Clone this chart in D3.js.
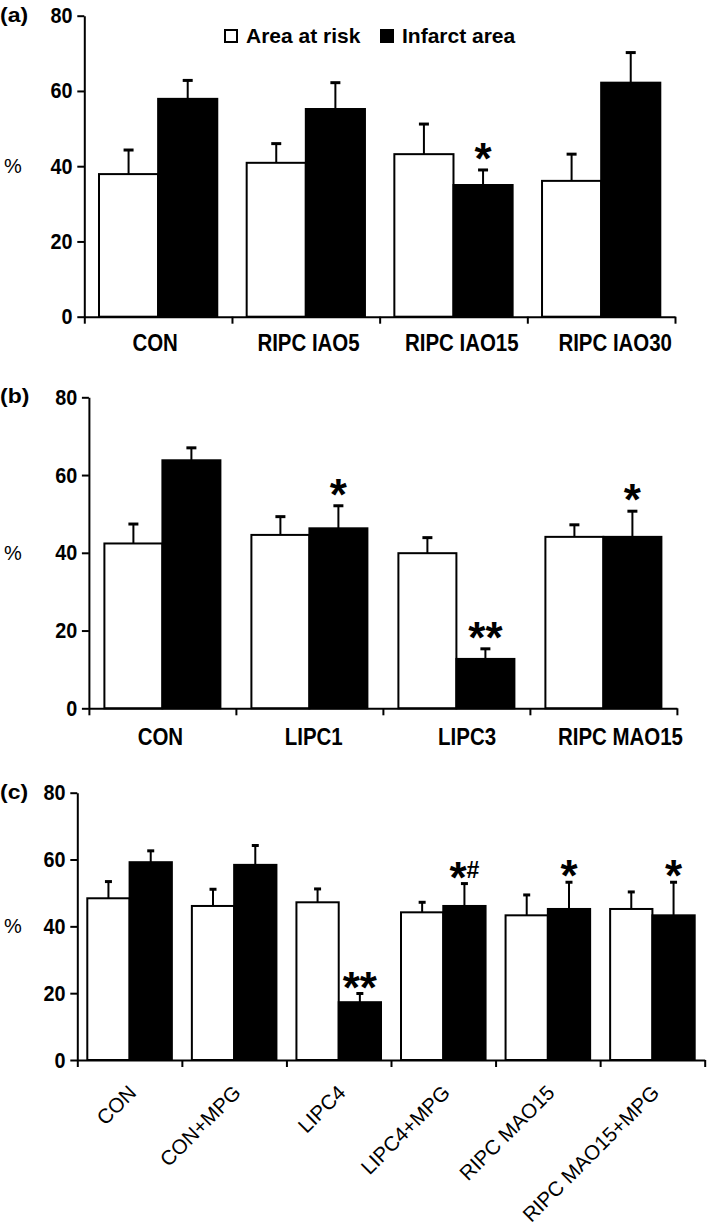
<!DOCTYPE html>
<html>
<head>
<meta charset="utf-8">
<script src="https://cdn.jsdelivr.net/npm/d3@7"></script>
<style>
  html, body { margin: 0; padding: 0; background: #fff; }
  svg { display: block; }
  text { font-family: "Liberation Sans", Arial, sans-serif; fill: #000; }
</style>
</head>
<body>
<div id="chart"></div>
<script>
// ---------- DATA ----------
const yTicks = [0, 20, 40, 60, 80];
const seriesNames = ["Area at risk", "Infarct area"];

// Panel (a)
const catsA = ["CON", "RIPC IAO5", "RIPC IAO15", "RIPC IAO30"];
const riskA = [37.9, 40.9, 43.2, 36.1];
const riskErrA = [6.4, 5.1, 8.0, 7.1];
const infarctA = [57.9, 55.2, 35.0, 62.2];
const infarctErrA = [4.9, 7.0, 4.0, 8.0];
const sigA = ["", "", "*", ""];

// Panel (b)
const catsB = ["CON", "LIPC1", "LIPC3", "RIPC MAO15"];
const riskB = [42.4, 44.6, 39.9, 44.1];
const riskErrB = [5.0, 4.7, 4.0, 3.1];
const infarctB = [63.8, 46.3, 12.7, 44.1];
const infarctErrB = [3.2, 5.8, 2.6, 6.6];
const sigB = ["", "*", "**", "*"];

// Panel (c)
const catsC = ["CON", "CON+MPG", "LIPC4", "LIPC4+MPG", "RIPC MAO15", "RIPC MAO15+MPG"];
const riskC = [48.4, 46.1, 47.2, 44.2, 43.3, 45.2];
const riskErrC = [5.0, 5.0, 4.0, 3.0, 6.1, 5.1];
const infarctC = [59.2, 58.4, 17.3, 46.1, 45.2, 43.3];
const infarctErrC = [3.4, 5.8, 2.6, 6.7, 8.0, 9.9];
const sigC = ["", "", "**", "*#", "*", "*"];

// ---------- LAYOUT ----------
const W = 709, H = 1225;
const svg = d3.select("#chart").append("svg").attr("width", W).attr("height", H);

const panels = [
  { letter: "(a)", cats: catsA, risk: riskA, riskErr: riskErrA, inf: infarctA, infErr: infarctErrA, sig: sigA,
    x0: 84.3, x1: 675, yTop: 15.7, yBot: 316.7, pad: 14.7, cap: 10, starOff: 4,
    rotated: false, labelY: 351, labelShift: [-3, 14], legend: true },
  { letter: "(b)", cats: catsB, risk: riskB, riskErr: riskErrB, inf: infarctB, infErr: infarctErrB, sig: sigB,
    x0: 88.9, x1: 676.9, yTop: 397.3, yBot: 708.3, pad: 15.5, cap: 10, starOff: 4,
    rotated: false, labelY: 745, labelShift: [-2, 17], legend: false },
  { letter: "(c)", cats: catsC, risk: riskC, riskErr: riskErrC, inf: infarctC, infErr: infarctErrC, sig: sigC,
    x0: 77.3, x1: 704.7, yTop: 792.7, yBot: 1060, pad: 10, cap: 7, starOff: 9,
    rotated: true, legend: false }
];

panels.forEach(p => {
  const n = p.cats.length;
  const g = svg.append("g");
  const x = d3.scaleLinear().domain([0, n]).range([p.x0, p.x1]);
  const y = d3.scaleLinear().domain([0, 80]).range([p.yBot, p.yTop]);
  const gw = x(1) - x(0);
  const bw = (gw - 2 * p.pad) / 2;

  // bars
  const rows = p.cats.map((c, i) => ({ i, c, risk: p.risk[i], rErr: p.riskErr[i], inf: p.inf[i], iErr: p.infErr[i], sig: p.sig[i] }));
  const bars = [];
  rows.forEach(r => {
    bars.push({ x: x(r.i) + p.pad, v: r.risk, e: r.rErr, fill: "#fff", sig: "" });
    bars.push({ x: x(r.i) + p.pad + bw, v: r.inf, e: r.iErr, fill: "#000", sig: r.sig });
  });

  // error bars (upward only)
  const eg = g.append("g");
  bars.forEach(b => {
    const cx = b.x + bw / 2;
    eg.append("line").attr("x1", cx).attr("x2", cx).attr("y1", y(b.v)).attr("y2", y(b.v + b.e))
      .attr("stroke", "#000").attr("stroke-width", 2);
    eg.append("line").attr("x1", cx - p.cap / 2).attr("x2", cx + p.cap / 2).attr("y1", y(b.v + b.e)).attr("y2", y(b.v + b.e))
      .attr("stroke", "#000").attr("stroke-width", 3);
  });

  g.append("g").selectAll("rect").data(bars).join("rect")
    .attr("x", d => d.x).attr("width", bw)
    .attr("y", d => y(d.v)).attr("height", d => y(0) - y(d.v))
    .attr("fill", d => d.fill).attr("stroke", "#000").attr("stroke-width", 2);

  // significance marks
  bars.filter(b => b.sig).forEach(b => {
    const cx = b.x + bw / 2;
    const by = y(b.v + b.e) + p.starOff;
    const t = g.append("text").attr("x", cx).attr("y", by).attr("text-anchor", "middle")
      .attr("font-weight", "bold");
    const stars = b.sig.replace(/#/g, "");
    t.append("tspan").attr("font-size", 44).text(stars);
    if (b.sig.includes("#")) {
      t.append("tspan").attr("font-size", 23).attr("dy", -15).attr("dx", 0).text("#");
    }
  });

  // y axis
  const ya = d3.axisLeft(y).tickValues(yTicks).tickSize(7).tickSizeOuter(0).tickPadding(6);
  const yg = g.append("g").attr("transform", `translate(${p.x0},0)`).call(ya);
  yg.select(".domain").attr("stroke", "#000").attr("stroke-width", 2);
  yg.selectAll(".tick line").attr("stroke", "#000").attr("stroke-width", 2);
  yg.selectAll(".tick text").attr("font-size", 22).attr("font-weight", "bold")
    .attr("font-family", '"Liberation Sans", Arial, sans-serif').attr("fill", "#000")
    .attr("transform", "scale(0.9,1)");

  // x axis (ticks at group boundaries)
  const xa = d3.axisBottom(x).tickValues(d3.range(n + 1)).tickSize(7).tickSizeOuter(0).tickFormat("");
  const xg = g.append("g").attr("transform", `translate(0,${p.yBot})`).call(xa);
  xg.select(".domain").attr("stroke", "#000").attr("stroke-width", 2);
  xg.selectAll(".tick line").attr("stroke", "#000").attr("stroke-width", 2);

  // category labels
  if (!p.rotated) {
    const lx = d3.scalePoint().domain(p.cats)
      .range([x(0.5) + p.labelShift[0], x(n - 0.5) + p.labelShift[1]]);
    p.cats.forEach(c => {
      g.append("text").attr("transform", `translate(${lx(c)},${p.labelY}) scale(0.87,1)`)
        .attr("text-anchor", "middle").attr("font-size", 23.5).attr("font-weight", "bold").text(c);
    });
  } else {
    p.cats.forEach((c, i) => {
      g.append("text").attr("transform", `translate(${x(i + 0.5) + 8},${p.yBot + 34}) rotate(-45)`)
        .attr("text-anchor", "end").attr("font-size", 20.5).text(c);
    });
  }

  // panel letter and % label
  g.append("text").attr("transform", `translate(0,${p.yTop + 6}) scale(1.15,1)`)
    .attr("font-size", 20).attr("font-weight", "bold").text(p.letter);
  g.append("text").attr("x", 4).attr("y", y(40) + 7).attr("font-size", 20).text("%");

  // legend
  if (p.legend) {
    const lg = g.append("g");
    const items = [{ name: seriesNames[0], fill: "#fff", x: 224 }, { name: seriesNames[1], fill: "#000", x: 380 }];
    items.forEach(it => {
      lg.append("rect").attr("x", it.x + 1).attr("y", 30).attr("width", 12).attr("height", 12)
        .attr("fill", it.fill).attr("stroke", "#000").attr("stroke-width", 2);
      lg.append("text").attr("x", it.x + 22).attr("y", 42.5).attr("font-size", 21).attr("font-weight", "bold").text(it.name);
    });
  }
});
</script>
</body>
</html>
